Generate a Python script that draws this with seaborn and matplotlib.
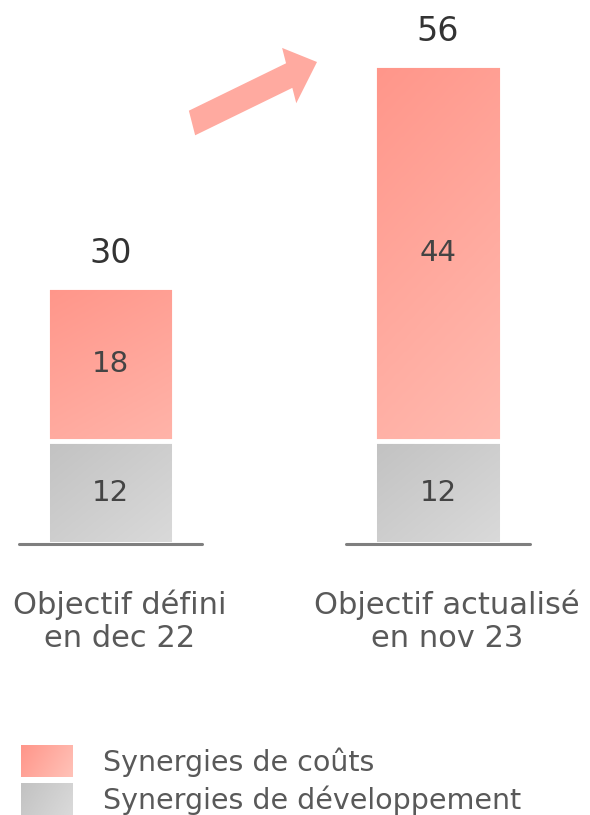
import numpy as np
import pandas as pd
import matplotlib.pyplot as plt
import seaborn as sns
from matplotlib.patches import FancyArrow, Rectangle
from matplotlib.colors import LinearSegmentedColormap

# data
categories = ['Objectif défini\nen dec 22', 'Objectif actualisé\nen nov 23']
couts = [18, 44]
developpement = [12, 12]
totals = [c + d for c, d in zip(couts, developpement)]
legend_labels = ['Synergies de coûts', 'Synergies de développement']

pink_cmap = LinearSegmentedColormap.from_list('pink', ['#FF968A', '#FFC2B8'])
gray_cmap = LinearSegmentedColormap.from_list('gray', ['#C2C2C2', '#DADADA'])

sns.set_theme(style='white')
plt.rcParams['font.family'] = ['DejaVu Sans']

fig = plt.figure(figsize=(5.9, 8.15), dpi=100)
ax = fig.add_axes([0, 271 / 815, 1, (544 - 65) / 815])

df = pd.DataFrame({'cat': categories, 'total': totals, 'dev': developpement})
sns.barplot(data=df, x='cat', y='total', color='#FFA99E', width=0.388, ax=ax)
sns.barplot(data=df, x='cat', y='dev', color='#CCCCCC', width=0.388, ax=ax)

ax.set_xlim(-110.5 / 327.5, (590 - 110.5) / 327.5)
ax.set_ylim(0, 56)
ax.axis('off')


def gradient_fill(patch, cmap, wx, wy):
    x, y = patch.get_x(), patch.get_y()
    w, h = patch.get_width(), patch.get_height()
    gx, gy = np.meshgrid(np.linspace(0, 1, 64), np.linspace(0, 1, 64))
    grad = (wx * gx + wy * (1 - gy)) / (wx + wy)
    im = ax.imshow(grad, cmap=cmap, extent=[x, x + w, y, y + h], origin='lower',
                   aspect='auto', zorder=2, vmin=0, vmax=1, interpolation='bilinear')
    im.set_clip_path(patch)
    patch.set_facecolor('none')
    patch.set_edgecolor('white')
    patch.set_linewidth(3.5)
    patch.set_zorder(3)


patches = ax.patches
n = len(categories)
for p in patches[:n]:
    gradient_fill(p, pink_cmap, 0.25, 0.9)
for p in patches[n:]:
    gradient_fill(p, gray_cmap, 0.6, 0.6)

# baselines
for i in range(n):
    ax.plot([i - 0.28, i + 0.28], [0, 0], color='#7F7F7F', lw=2.2, zorder=4, clip_on=False)

# labels in bars and totals
for i in range(n):
    ax.text(i, developpement[i] / 2, str(developpement[i]), ha='center', va='center',
            fontsize=21, color='#444444', zorder=5)
    ax.text(i, developpement[i] + couts[i] / 2, str(couts[i]), ha='center', va='center',
            fontsize=21, color='#444444', zorder=5)
    ax.text(i, totals[i] + 2.0, str(totals[i]), ha='center', va='bottom',
            fontsize=24, color='#333333', zorder=5, clip_on=False)

# category labels
for i, lab in enumerate(categories):
    ax.text(i + 0.028, -5.3, lab, ha='center', va='top', fontsize=22, color='#595959',
            linespacing=1.2, clip_on=False)

# arrow
arr = FancyArrow(192 / 590, 1 - 123 / 815, (317 - 192) / 590, (123 - 62) / 815,
                 width=0.032, head_width=0.072, head_length=0.05,
                 length_includes_head=True, transform=fig.transFigure,
                 color='#FFAAA0', lw=0)
fig.patches.append(arr)

# legend
lax = fig.add_axes([0, 0, 1, 1], facecolor='none')
lax.set_xlim(0, 590)
lax.set_ylim(815, 0)
lax.axis('off')
cmaps = [pink_cmap, gray_cmap]
for k, (lab, cm) in enumerate(zip(legend_labels, cmaps)):
    y0 = 745 + k * 38
    r = Rectangle((21, y0), 52, 32, facecolor='none', edgecolor='none')
    lax.add_patch(r)
    gx, gy = np.meshgrid(np.linspace(0, 1, 32), np.linspace(0, 1, 32))
    im = lax.imshow(0.8 * gx + 0.3 * gy, cmap=cm, extent=[21, 73, y0 + 32, y0],
                    aspect='auto', vmin=0, vmax=1.1, interpolation='bilinear')
    im.set_clip_path(r)
    lax.text(103, y0 + 17, lab, ha='left', va='center', fontsize=20.5, color='#595959')

fig.savefig('out.png', dpi=100)
